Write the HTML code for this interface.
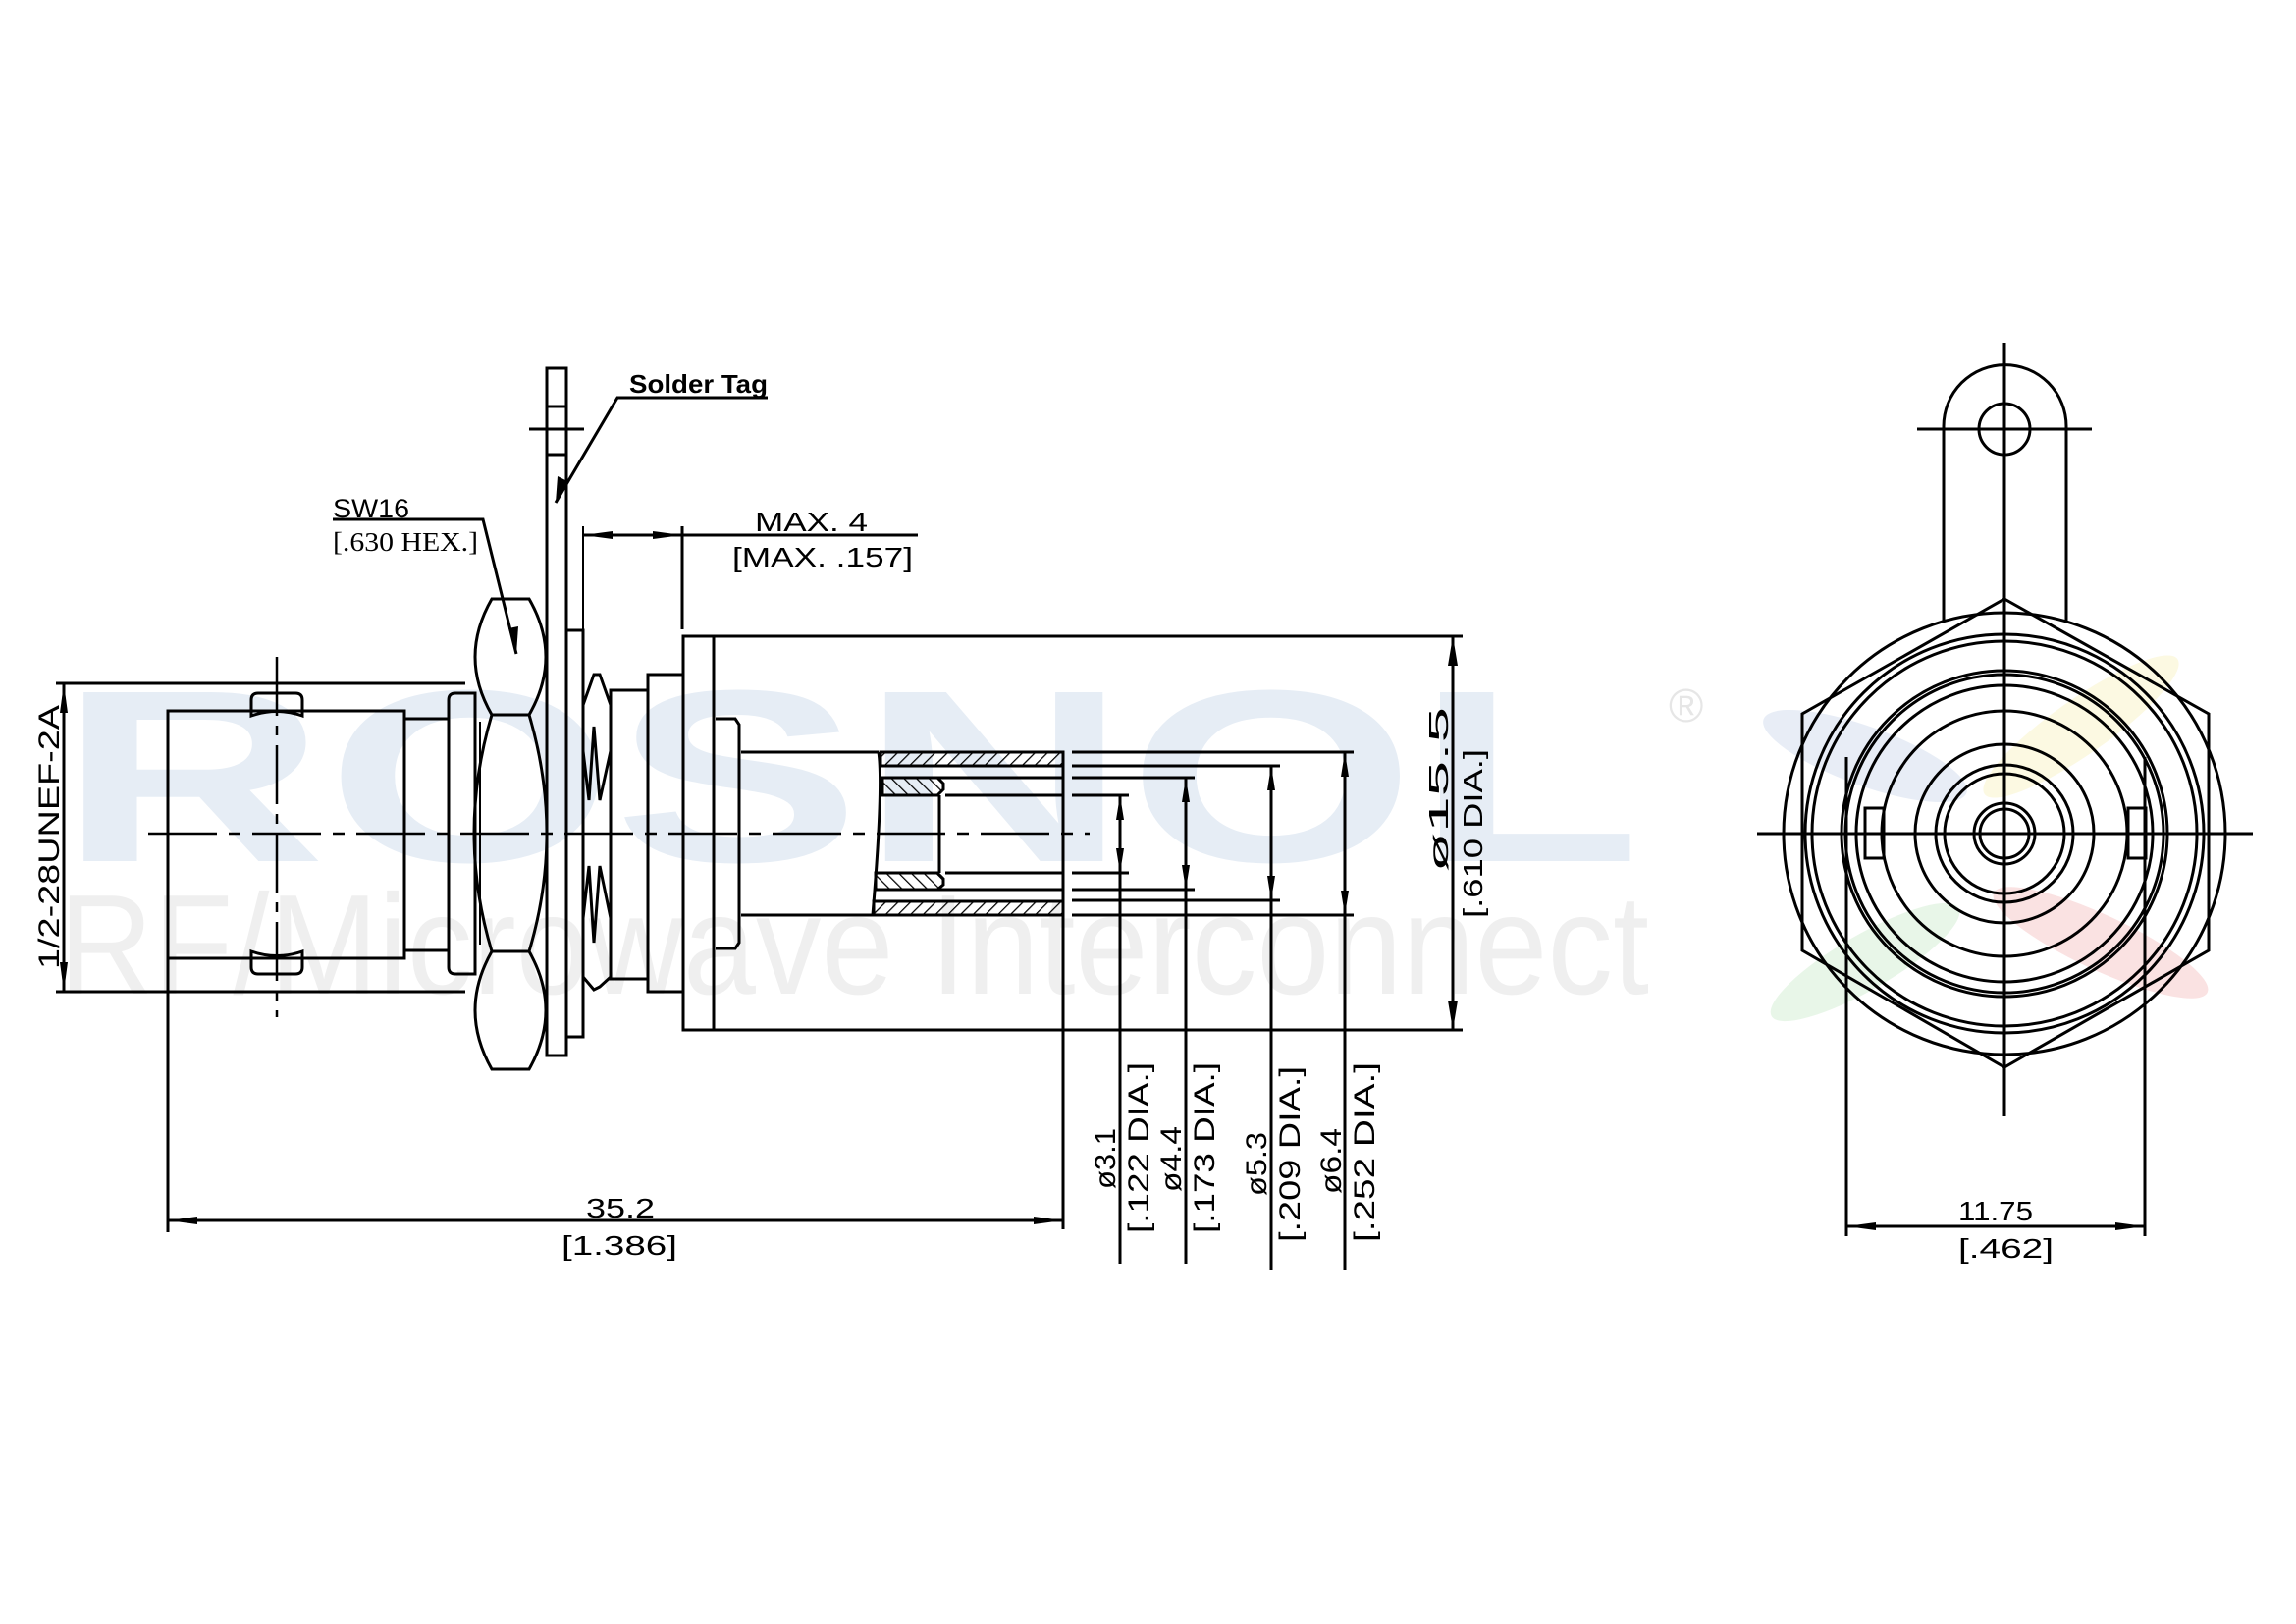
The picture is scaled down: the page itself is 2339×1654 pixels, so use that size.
<!DOCTYPE html>
<html><head><meta charset="utf-8"><style>
html,body{margin:0;padding:0;background:#fff;}
svg{display:block;}
text{font-family:"Liberation Sans",sans-serif;fill:#000;}
</style></head><body>
<svg width="2339" height="1654" viewBox="0 0 2339 1654" xmlns="http://www.w3.org/2000/svg">
<defs>
<pattern id="h1" width="9" height="9" patternUnits="userSpaceOnUse" patternTransform="rotate(45)">
<line x1="0" y1="0" x2="0" y2="9" stroke="#000" stroke-width="2.5"/></pattern>
<pattern id="h2" width="9" height="9" patternUnits="userSpaceOnUse" patternTransform="rotate(-45)">
<line x1="0" y1="0" x2="0" y2="9" stroke="#000" stroke-width="2.5"/></pattern>
</defs>
<rect width="2339" height="1654" fill="#fff"/>
<!-- watermark -->
<text x="60" y="877" font-size="250" font-weight="bold" textLength="1612" lengthAdjust="spacingAndGlyphs" style="fill:#e6edf5">ROSNOL</text>
<text x="1700" y="735" font-size="48" style="fill:#e6e6e6">®</text>
<text x="60" y="1012" font-size="145" textLength="1620" lengthAdjust="spacingAndGlyphs" style="fill:#efefef">RF/Microwave Interconnect</text>
<g opacity="0.16">
<ellipse cx="1900" cy="770" rx="110" ry="30" fill="#6b8fc7" transform="rotate(20 1900 770)"/>
<ellipse cx="2120" cy="740" rx="120" ry="28" fill="#e8d84a" transform="rotate(-35 2120 740)"/>
<ellipse cx="2140" cy="960" rx="120" ry="28" fill="#e04a4a" transform="rotate(25 2140 960)"/>
<ellipse cx="1900" cy="980" rx="110" ry="28" fill="#6fc76f" transform="rotate(-30 1900 980)"/>
</g>

<g fill="none" stroke="#000" stroke-width="3" stroke-linejoin="miter">
<line x1="151" y1="849" x2="1110" y2="849" stroke-dasharray="70 12 12 12" stroke-width="2.5"/>
<line x1="282" y1="669" x2="282" y2="1036" stroke-dasharray="60 10 10 10" stroke-width="2.5"/>

<rect x="171" y="724" width="241" height="252"/>
<path d="M256 729 L256 713 Q256 706 263 706 L301 706 Q308 706 308 713 L308 729 Q282 720 256 729 Z"/>
<path d="M256 969 L256 985 Q256 992 263 992 L301 992 Q308 992 308 985 L308 969 Q282 978 256 969 Z"/>
<rect x="412" y="732" width="45" height="236"/>
<path d="M457 713 Q457 706 464 706 L484 706 L484 992 L464 992 Q457 992 457 985 Z"/>
<path d="M501 610 L539 610 Q573 669 539 728 L501 728 Q467 669 501 610 Z"/>
<path d="M501 728 L539 728 Q575 849 539 969 L501 969 Q465 849 501 728 Z"/>
<path d="M501 969 L539 969 Q573 1029 539 1089 L501 1089 Q467 1029 501 969 Z"/>
<line x1="489" y1="735" x2="489" y2="962" stroke-width="2"/>
<rect x="557" y="375" width="20" height="700"/>
<line x1="557" y1="414" x2="577" y2="414"/>
<line x1="557" y1="463" x2="577" y2="463"/>
<line x1="539" y1="437" x2="595" y2="437"/>
<rect x="577" y="642" width="17" height="414"/>
<path d="M594 718 L605 687 L611 687 L622 718 L622 765 L611 815 L605 740 L600 815 L594 765 Z"/>
<path d="M594 935 L600 882 L605 960 L611 882 L622 935 L622 995 L611 1005 L605 1008 L594 995 Z"/>
<rect x="622" y="703" width="38" height="294"/>
<rect x="660" y="687" width="36" height="323"/>
<rect x="696" y="648" width="31" height="401"/>
<path d="M729 732 L749 732 L753 738 L753 960 L749 966 L729 966"/>
<line x1="755" y1="766" x2="895" y2="766"/>
<line x1="755" y1="932" x2="889" y2="932"/>
<path d="M895 766 Q900 800 889 932"/>
<rect x="897" y="766" width="186" height="14" fill="url(#h1)"/>
<rect x="890" y="918" width="193" height="14" fill="url(#h1)"/>
<line x1="897" y1="780" x2="1083" y2="780"/>
<line x1="890" y1="918" x2="1083" y2="918"/>
<path d="M899 792 L955 792 L961 798 L961 804 L955 810 L899 810 Z" fill="url(#h2)"/>
<path d="M892 889 L955 889 L961 895 L961 901 L955 906 L892 906 Z" fill="url(#h2)"/>
<line x1="955" y1="792" x2="1083" y2="792"/>
<line x1="963" y1="810" x2="1083" y2="810"/>
<line x1="963" y1="889" x2="1083" y2="889"/>
<line x1="955" y1="906" x2="1083" y2="906"/>
<line x1="957" y1="810" x2="957" y2="889"/>
<line x1="1083" y1="766" x2="1083" y2="1252"/>

<line x1="727" y1="648" x2="1490" y2="648"/>
<line x1="727" y1="1049" x2="1490" y2="1049"/>
<line x1="1480" y1="648" x2="1480" y2="1049"/>
<line x1="1092" y1="766" x2="1379" y2="766"/>
<line x1="1092" y1="780" x2="1304" y2="780"/>
<line x1="1092" y1="792" x2="1217" y2="792"/>
<line x1="1092" y1="810" x2="1150" y2="810"/>
<line x1="1092" y1="889" x2="1150" y2="889"/>
<line x1="1092" y1="906" x2="1217" y2="906"/>
<line x1="1092" y1="917" x2="1304" y2="917"/>
<line x1="1092" y1="932" x2="1379" y2="932"/>
<line x1="1141" y1="810" x2="1141" y2="1287"/>
<line x1="1208" y1="792" x2="1208" y2="1287"/>
<line x1="1295" y1="780" x2="1295" y2="1293"/>
<line x1="1370" y1="766" x2="1370" y2="1293"/>

<line x1="171" y1="976" x2="171" y2="1255"/>
<line x1="171" y1="1243" x2="1083" y2="1243"/>
<line x1="57" y1="696" x2="474" y2="696"/>
<line x1="57" y1="1010" x2="474" y2="1010"/>
<line x1="65" y1="696" x2="65" y2="1010"/>
<line x1="593" y1="545" x2="935" y2="545"/>
<line x1="695" y1="536" x2="695" y2="641"/>
<line x1="594" y1="536" x2="594" y2="641" stroke-width="2"/>
<polyline points="782,405 629,405 566,512"/>
<polyline points="339,529 492,529 526,666"/>

<line x1="2042" y1="349" x2="2042" y2="1137"/>
<line x1="1953" y1="437" x2="2131" y2="437"/>
<line x1="1790" y1="849" x2="2295" y2="849"/>
<circle cx="2042" cy="437" r="26"/>
<path d="M1980 632 L1980 434 A62.5 62.5 0 0 1 2105 434 L2105 632"/>
<polygon points="2042,610 2250,727 2250,968 2042,1087 1836,968 1836,727"/>
<circle cx="2042" cy="849" r="225"/>
<circle cx="2042" cy="849" r="203"/>
<circle cx="2042" cy="849" r="196"/>
<circle cx="2042" cy="849" r="166"/>
<circle cx="2042" cy="849" r="162"/>
<circle cx="2042" cy="849" r="151"/>
<circle cx="2042" cy="849" r="125"/>
<circle cx="2042" cy="849" r="91"/>
<circle cx="2042" cy="849" r="70"/>
<circle cx="2042" cy="849" r="61"/>
<circle cx="2042" cy="849" r="31"/>
<circle cx="2042" cy="849" r="25"/>
<rect x="1900" y="823" width="19" height="51"/>
<rect x="2168" y="823" width="18" height="51"/>
<line x1="1881" y1="771" x2="1881" y2="1259"/>
<line x1="2185" y1="771" x2="2185" y2="1259"/>
<line x1="1881" y1="1249" x2="2185" y2="1249"/>
</g>

<g fill="#000">
<polygon points="1480,648 1475,678 1485,678"/><polygon points="1480,1049 1475,1019 1485,1019"/>
<polygon points="1141,810 1137,835 1145,835"/><polygon points="1141,889 1137,864 1145,864"/>
<polygon points="1208,792 1204,817 1212,817"/><polygon points="1208,906 1204,881 1212,881"/>
<polygon points="1295,780 1291,805 1299,805"/><polygon points="1295,917 1291,892 1299,892"/>
<polygon points="1370,766 1366,791 1374,791"/><polygon points="1370,932 1366,907 1374,907"/>
<polygon points="171,1243 201,1239 201,1247"/><polygon points="1083,1243 1053,1239 1053,1247"/>
<polygon points="65,696 61,726 69,726"/><polygon points="65,1010 61,980 69,980"/>
<polygon points="594,545 624,541 624,549"/><polygon points="695,545 665,541 665,549"/>
<polygon points="566,512 568,485 578,490"/>
<polygon points="526,666 518,640 528,638"/>
<polygon points="1881,1249 1911,1245 1911,1253"/><polygon points="2185,1249 2155,1245 2155,1253"/>
</g>

<text x="641" y="400" font-size="26" font-weight="bold" textLength="141" lengthAdjust="spacingAndGlyphs">Solder Tag</text>
<text x="339" y="527" font-size="27" textLength="78" lengthAdjust="spacingAndGlyphs">SW16</text>
<text x="339" y="561" font-size="27" style="font-family:'Liberation Serif',serif" textLength="148" lengthAdjust="spacingAndGlyphs">[.630 HEX.]</text>
<text x="769" y="541" font-size="28" textLength="115" lengthAdjust="spacingAndGlyphs">MAX. 4</text>
<text x="746" y="577" font-size="28" textLength="184" lengthAdjust="spacingAndGlyphs">[MAX. .157]</text>
<text x="597" y="1240" font-size="28" textLength="70" lengthAdjust="spacingAndGlyphs">35.2</text>
<text x="572" y="1278" font-size="28" textLength="118" lengthAdjust="spacingAndGlyphs">[1.386]</text>
<text x="1995" y="1243" font-size="28" textLength="76" lengthAdjust="spacingAndGlyphs">11.75</text>
<text x="1995" y="1281" font-size="28" textLength="97" lengthAdjust="spacingAndGlyphs">[.462]</text>
<text transform="translate(60,987) rotate(-90)" font-size="30" textLength="269" lengthAdjust="spacingAndGlyphs">1/2-28UNEF-2A</text>
<text transform="translate(1475,888) rotate(-90)" font-size="28" textLength="168" lengthAdjust="spacingAndGlyphs">ø15.5</text>
<text transform="translate(1510,935) rotate(-90)" font-size="28" textLength="172" lengthAdjust="spacingAndGlyphs">[.610 DIA.]</text>
<text transform="translate(1136,1211) rotate(-90)" font-size="30" textLength="62" lengthAdjust="spacingAndGlyphs">ø3.1</text>
<text transform="translate(1170,1256) rotate(-90)" font-size="30" textLength="174" lengthAdjust="spacingAndGlyphs">[.122 DIA.]</text>
<text transform="translate(1203,1214) rotate(-90)" font-size="30" textLength="67" lengthAdjust="spacingAndGlyphs">ø4.4</text>
<text transform="translate(1237,1256) rotate(-90)" font-size="30" textLength="174" lengthAdjust="spacingAndGlyphs">[.173 DIA.]</text>
<text transform="translate(1290,1218) rotate(-90)" font-size="30" textLength="65" lengthAdjust="spacingAndGlyphs">ø5.3</text>
<text transform="translate(1324,1265) rotate(-90)" font-size="30" textLength="179" lengthAdjust="spacingAndGlyphs">[.209 DIA.]</text>
<text transform="translate(1366,1216) rotate(-90)" font-size="30" textLength="67" lengthAdjust="spacingAndGlyphs">ø6.4</text>
<text transform="translate(1400,1265) rotate(-90)" font-size="30" textLength="183" lengthAdjust="spacingAndGlyphs">[.252 DIA.]</text>
</svg>
</body></html>
